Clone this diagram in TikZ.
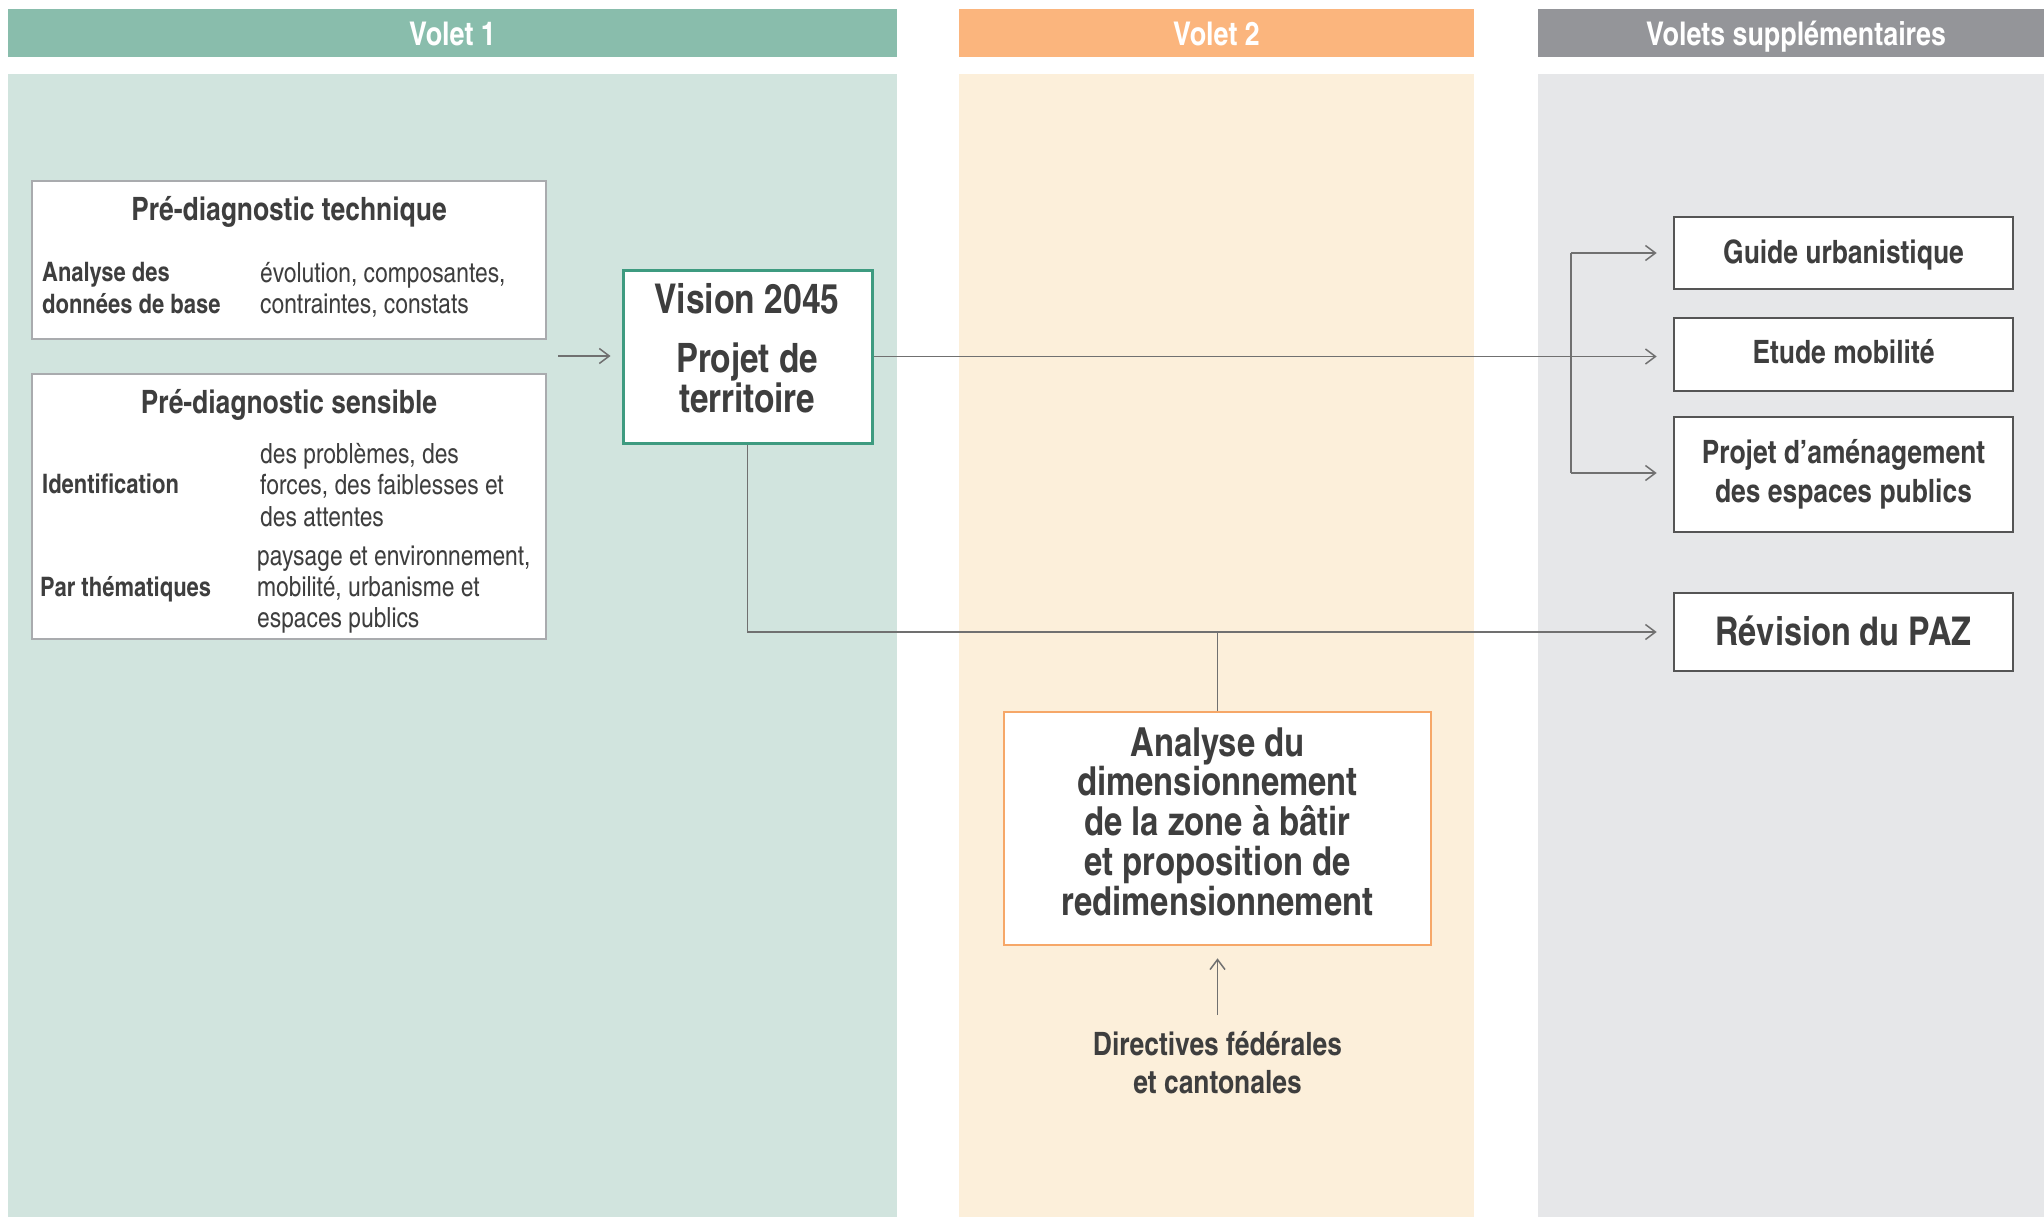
\documentclass[tikz,border=0pt]{standalone}
\usepackage{fontspec}
\setmainfont{texgyreheroscn-regular.otf}[BoldFont=texgyreheroscn-bold.otf]
\usetikzlibrary{arrows.meta}
\definecolor{vAhd}{HTML}{89BDAC}
\definecolor{vAbg}{HTML}{D1E4DE}
\definecolor{vBhd}{HTML}{FBB57D}
\definecolor{vBbg}{HTML}{FCEFDA}
\definecolor{vChd}{HTML}{949599}
\definecolor{vCbg}{HTML}{E6E7E9}
\definecolor{txtg}{HTML}{3E3E3E}
\definecolor{lineg}{HTML}{707070}
\definecolor{boxg}{HTML}{A9ABAE}
\definecolor{boxd}{HTML}{555555}
\definecolor{visg}{HTML}{3E9B80}
\definecolor{anao}{HTML}{F6A768}
\begin{document}
\begin{tikzpicture}[x=1pt,y=-1pt,
  hdrtxt/.style={inner sep=0,text=white,font=\fontsize{32.7}{36}\selectfont\bfseries},
  lbox/.style={draw=boxg,line width=2pt,fill=white,inner sep=0},
  dbox/.style={draw=boxd,line width=2.6pt,fill=white,inner sep=0},
  vbox/.style={draw=visg,line width=3pt,fill=white,inner sep=0},
  obox/.style={draw=anao,line width=2.6pt,fill=white,inner sep=0},
  t/.style={inner sep=0,text=txtg},
  ftitle/.style={font=\fontsize{32.2}{36}\selectfont\bfseries},
  fbody/.style={font=\fontsize{26.8}{32}\selectfont\bfseries},
  freg/.style={font=\fontsize{27.8}{32}\selectfont},
  fbig/.style={font=\fontsize{41}{40}\selectfont\bfseries},
  frev/.style={font=\fontsize{39.6}{40}\selectfont\bfseries},
  fan/.style={font=\fontsize{40}{40}\selectfont\bfseries},
  fmid/.style={font=\fontsize{40.5}{40}\selectfont\bfseries},
  fsm/.style={font=\fontsize{32.2}{38}\selectfont\bfseries},
  conn/.style={draw=lineg,line width=1.6pt},
  arr/.style={conn,-{Straight Barb[length=10pt,width=15pt,line width=1.5pt]}},
]
\useasboundingbox (0,0) rectangle (2044,1217);
\fill[white] (0,0) rectangle (2044,1217);
% columns
\fill[vAbg] (8,74) rectangle (897,1217);
\fill[vAhd] (8,9) rectangle (897,57);
\fill[vBbg] (959,74) rectangle (1474,1217);
\fill[vBhd] (959,9) rectangle (1474,57);
\fill[vCbg] (1538,74) rectangle (2044,1217);
\fill[vChd] (1538,9) rectangle (2044,57);
\node[hdrtxt,anchor=base] (h1) at (452.5,46) {Volet 1};
\node[hdrtxt,anchor=base] (h2) at (1216.5,46) {Volet 2};
\node[hdrtxt,anchor=base] (h3) at (1796,46) {Volets supplémentaires};

% Pre-diagnostic technique
\node[lbox,minimum width=514pt,minimum height=158pt] (pdt) at (289,260) {};
\node[t,ftitle,anchor=base] (pdtT) at (289,220) {Pré-diagnostic technique};
\node[t,fbody,anchor=base west] (pdtA1) at (42,281) {Analyse des};
\node[t,fbody,anchor=base west] (pdtA2) at (42,313) {données de base};
\node[t,freg,anchor=base west] (pdtB1) at (260,282) {évolution, composantes,};
\node[t,freg,anchor=base west] (pdtB2) at (260,313) {contraintes, constats};

% Pre-diagnostic sensible
\node[lbox,minimum width=514pt,minimum height=265pt] (pds) at (289,506.5) {};
\node[t,ftitle,anchor=base] (pdsT) at (289,413) {Pré-diagnostic sensible};
\node[t,fbody,anchor=base west] (pdsA) at (42,493) {Identification};
\node[t,freg,anchor=base west] (pdsA1) at (260,463) {des problèmes, des};
\node[t,freg,anchor=base west] (pdsA2) at (260,494) {forces, des faiblesses et};
\node[t,freg,anchor=base west] (pdsA3) at (260,526) {des attentes};
\node[t,fbody,anchor=base west] (pdsB) at (40,596) {Par thématiques};
\node[t,freg,anchor=base west] (pdsB1) at (257,565) {paysage et environnement,};
\node[t,freg,anchor=base west] (pdsB2) at (257,596) {mobilité, urbanisme et};
\node[t,freg,anchor=base west] (pdsB3) at (257,627) {espaces publics};

% Vision
\node[vbox,minimum width=249pt,minimum height=173pt] (vision) at (747.5,356.5) {};
\node[t,fbig,anchor=base] (vis1) at (747,313) {Vision 2045};
\node[t,fmid,anchor=base] (vis2) at (747,372) {Projet de};
\node[t,fmid,anchor=base] (vis3) at (747,412) {territoire};

% right column
\node[dbox,minimum width=339pt,minimum height=72pt] (guide) at (1843.5,253) {};
\node[t,fsm,anchor=base] (guideT) at (1843.5,263) {Guide urbanistique};
\node[dbox,minimum width=339pt,minimum height=73pt] (etude) at (1843.5,354.5) {};
\node[t,fsm,anchor=base] (etudeT) at (1843.5,363) {Etude mobilité};
\node[dbox,minimum width=339pt,minimum height=115pt] (projet) at (1843.5,474.5) {};
\node[t,fsm,anchor=base] (projetT1) at (1843.5,463) {Projet d’aménagement};
\node[t,fsm,anchor=base] (projetT2) at (1843.5,502) {des espaces publics};
\node[dbox,minimum width=339pt,minimum height=78pt] (revision) at (1843.5,632) {};
\node[t,frev,anchor=base] (revisionT) at (1843.5,645) {Révision du PAZ};

% Analyse
\node[obox,minimum width=427pt,minimum height=233pt] (analyse) at (1217.5,828.5) {};
\node[t,fan,anchor=base] (an1) at (1217.5,756) {Analyse du};
\node[t,fan,anchor=base] (an2) at (1217.5,795) {dimensionnement};
\node[t,fan,anchor=base] (an3) at (1217.5,835) {de la zone à bâtir};
\node[t,fan,anchor=base] (an4) at (1217.5,875) {et proposition de};
\node[t,fan,anchor=base] (an5) at (1217.5,915) {redimensionnement};

% Directives
\node[t,fsm,anchor=base] (dir1) at (1217.5,1055) {Directives fédérales};
\node[t,fsm,anchor=base] (dir2) at (1217.5,1093) {et cantonales};

% connectors
\coordinate (inpt) at (558,356);
\draw[arr,shorten >=11pt] (inpt) -- (inpt -| vision.west);
\draw[arr,shorten >=16pt] (vision.east) -- (vision.east -| etude.west);
\coordinate (bt) at (1571,253);
\coordinate (bb) at (1571,473);
\draw[conn] (bt) -- (bb);
\draw[arr,shorten >=16pt] (bt) -- (bt -| guide.west);
\draw[arr,shorten >=16pt] (bb) -- (bb -| projet.west);
\draw[arr,shorten >=16pt] (vision.south) |- (revision.west);
\draw[conn] (analyse.north) -- (analyse.north |- revision.west);
\coordinate (dtail) at (1217.5,1015);
\draw[arr,shorten >=12pt] (dtail) -- (analyse.south);
\end{tikzpicture}
\end{document}
